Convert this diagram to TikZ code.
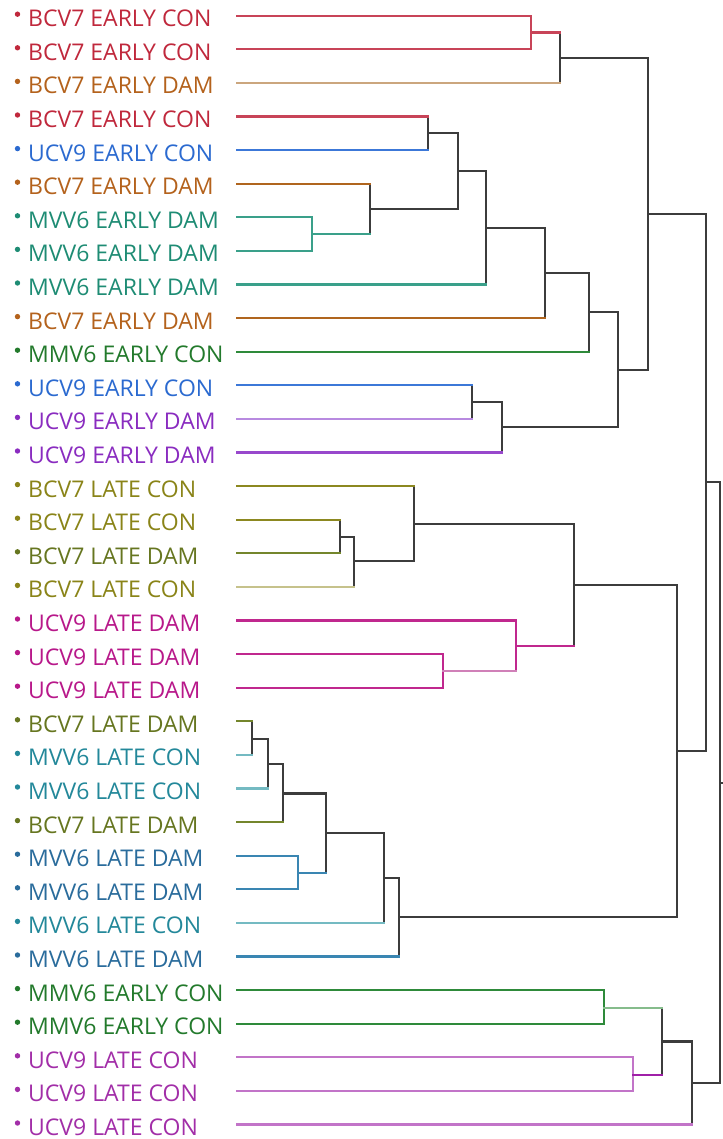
\documentclass[tikz,border=0pt]{standalone}
\usepackage{fontspec}
\setmainfont{Open Sans}
\definecolor{tR}{HTML}{C0283C}
\definecolor{lR}{HTML}{C84458}
\definecolor{tBr}{HTML}{B4621C}
\definecolor{lBr}{HTML}{B0651E}
\definecolor{lTan}{HTML}{CBA67E}
\definecolor{tBl}{HTML}{2B6AD0}
\definecolor{lBl}{HTML}{3C78D8}
\definecolor{tTe}{HTML}{1E8C74}
\definecolor{lTe}{HTML}{3AA08A}
\definecolor{tGr}{HTML}{237A2C}
\definecolor{lGr}{HTML}{2E8A3A}
\definecolor{lGrL}{HTML}{86BC8C}
\definecolor{tPu}{HTML}{8A2CC0}
\definecolor{lPu}{HTML}{9848CC}
\definecolor{lPuL}{HTML}{B88AE0}
\definecolor{tOl}{HTML}{8A8418}
\definecolor{lOl}{HTML}{8C8820}
\definecolor{lOlL}{HTML}{C6C28C}
\definecolor{tOg}{HTML}{667620}
\definecolor{lOg}{HTML}{74862C}
\definecolor{tMa}{HTML}{B8188A}
\definecolor{lMa}{HTML}{C0288E}
\definecolor{lMaL}{HTML}{D080B8}
\definecolor{tTb}{HTML}{23889A}
\definecolor{lTb}{HTML}{74BAC2}
\definecolor{tSb}{HTML}{2A6C9C}
\definecolor{lSb}{HTML}{3A86B2}
\definecolor{tOr}{HTML}{A22EA8}
\definecolor{lOr}{HTML}{C274C8}
\definecolor{lOrD}{HTML}{A020A8}
\definecolor{lk}{HTML}{3C3C3C}
\newcommand{\br}[6]{%
  \draw[ln,#6] (#2 -| #1) -- (#3 -| #1);
  \draw[ln,#4] (#2) -- (#2 -| #1);
  \draw[ln,#5] (#3) -- (#3 -| #1);
}
\begin{document}
\begin{tikzpicture}[x=1pt,y=-1pt,
  ln/.style={line width=2.1pt,line cap=rect},
  lbl/.style={inner sep=0pt,anchor=base west,font=\fontsize{23}{26}\selectfont}]
\useasboundingbox[fill=white] (0,0) rectangle (722,1139);
\foreach \i/\txt/\tc/\bc in {
 0/BCV7 EARLY CON/tR/tR, 1/BCV7 EARLY CON/tR/tR, 2/BCV7 EARLY DAM/tBr/tBr,
 3/BCV7 EARLY CON/tR/tR, 4/UCV9 EARLY CON/tBl/tBl, 5/BCV7 EARLY DAM/tBr/tBr,
 6/MVV6 EARLY DAM/tTe/tTe, 7/MVV6 EARLY DAM/tTe/tTe, 8/MVV6 EARLY DAM/tTe/tTe,
 9/BCV7 EARLY DAM/tBr/tBr, 10/MMV6 EARLY CON/tGr/tGr, 11/UCV9 EARLY CON/tBl/tBl,
 12/UCV9 EARLY DAM/tPu/tPu, 13/UCV9 EARLY DAM/tPu/tPu, 14/BCV7 LATE CON/tOl/tOl,
 15/BCV7 LATE CON/tOl/tOl, 16/BCV7 LATE DAM/tOg/tOg, 17/BCV7 LATE CON/tOl/tOl,
 18/UCV9 LATE DAM/tMa/tMa, 19/UCV9 LATE DAM/tMa/tMa, 20/UCV9 LATE DAM/tMa/tMa,
 21/BCV7 LATE DAM/tOg/tOg, 22/MVV6 LATE CON/tTb/tTb, 23/MVV6 LATE CON/tTb/tTb,
 24/BCV7 LATE DAM/tOg/tOg, 25/MVV6 LATE DAM/tSb/tSb, 26/MVV6 LATE DAM/tSb/tSb,
 27/MVV6 LATE CON/tTb/tTb, 28/MVV6 LATE DAM/tSb/tSb, 29/MMV6 EARLY CON/tGr/tGr,
 30/MMV6 EARLY CON/tGr/tGr, 31/UCV9 LATE CON/tOr/tOr, 32/UCV9 LATE CON/tOr/tOr,
 33/UCV9 LATE CON/tOr/tOr}{
  \pgfmathsetmacro\yy{15.7+33.6*\i}
  \node[lbl,text=\tc] (t\i) at (28,\yy+11) {\txt};
  \fill[\bc] (17.5,\yy-1.5) circle (2.7);
  \coordinate (l\i) at (237,\yy);
}
% merge points
\coordinate (nA) at (530.7,32.5);
\coordinate (nB) at (560,57.7);
\coordinate (nC) at (428,133.3);
\coordinate (nD) at (312,234.1);
\coordinate (nE) at (370,208.9);
\coordinate (nF) at (457.7,171.1);
\coordinate (nG) at (486,227.8);
\coordinate (nH) at (545.3,273);
\coordinate (nI) at (589,312.3);
\coordinate (nJ) at (472.3,402.1);
\coordinate (nK) at (502.3,427.3);
\coordinate (nL) at (618.3,369.8);
\coordinate (nM) at (647.7,213.8);
\coordinate (nT) at (340,536.9);
\coordinate (nS) at (354,561.2);
\coordinate (nQ) at (414,523.6);
\coordinate (nU) at (443.3,671);
\coordinate (nV) at (516,645.6);
\coordinate (nW) at (574,584.6);
\coordinate (na) at (252.3,738.8);
\coordinate (nb) at (267.7,764.2);
\coordinate (nc) at (282.7,793.5);
\coordinate (nd) at (297.7,873.1);
\coordinate (ne) at (326,833.3);
\coordinate (nf) at (384,878.3);
\coordinate (nX) at (399.3,917.4);
\coordinate (nP) at (677,751);
\coordinate (nN) at (706,482.4);
\coordinate (ng) at (604,1007.9);
\coordinate (nh) at (633.3,1075.1);
\coordinate (ni) at (662.3,1041.5);
\coordinate (nj) at (691.7,1083);
\coordinate (nR) at (720,782.7);
\coordinate (stem) at (724,782.7);
% brackets
\br{nA}{l0}{l1}{lR}{lR}{lR}
\br{nB}{nA}{l2}{lR}{lTan}{lk}
\br{nC}{l3}{l4}{lR}{lBl}{lk}
\br{nD}{l6}{l7}{lTe}{lTe}{lTe}
\br{nE}{l5}{nD}{lBr}{lTe}{lk}
\br{nF}{nC}{nE}{lk}{lk}{lk}
\br{nG}{nF}{l8}{lk}{lTe}{lk}
\br{nH}{nG}{l9}{lk}{lBr}{lk}
\br{nI}{nH}{l10}{lk}{lGr}{lk}
\br{nJ}{l11}{l12}{lBl}{lPuL}{lk}
\br{nK}{nJ}{l13}{lk}{lPu}{lk}
\br{nL}{nI}{nK}{lk}{lk}{lk}
\br{nM}{nB}{nL}{lk}{lk}{lk}
\br{nT}{l15}{l16}{lOl}{lOg}{lk}
\br{nS}{nT}{l17}{lk}{lOlL}{lk}
\br{nQ}{l14}{nS}{lOl}{lk}{lk}
\br{nU}{l19}{l20}{lMa}{lMa}{lMa}
\br{nV}{l18}{nU}{lMa}{lMaL}{lMa}
\br{nW}{nQ}{nV}{lk}{lMa}{lk}
\br{na}{l21}{l22}{lOg}{lTb}{lk}
\br{nb}{na}{l23}{lk}{lTb}{lk}
\br{nc}{nb}{l24}{lk}{lOg}{lk}
\br{nd}{l25}{l26}{lSb}{lSb}{lSb}
\br{ne}{nc}{nd}{lk}{lSb}{lk}
\br{nf}{ne}{l27}{lk}{lTb}{lk}
\br{nX}{nf}{l28}{lk}{lSb}{lk}
\br{nP}{nW}{nX}{lk}{lk}{lk}
\br{nN}{nM}{nP}{lk}{lk}{lk}
\br{ng}{l29}{l30}{lGr}{lGr}{lGr}
\br{nh}{l31}{l32}{lOr}{lOr}{lOr}
\br{ni}{ng}{nh}{lGrL}{lOrD}{lk}
\br{nj}{ni}{l33}{lk}{lOr}{lk}
\br{nR}{nN}{nj}{lk}{lk}{lk}
\draw[ln,lk] (nR) -- (stem);
\end{tikzpicture}
\end{document}
